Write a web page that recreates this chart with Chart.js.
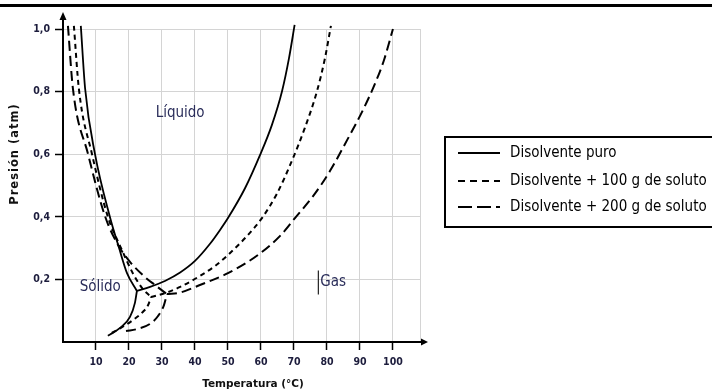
<!DOCTYPE html>
<html><head><meta charset="utf-8">
<script src="https://cdn.jsdelivr.net/npm/chart.js@4"></script>
<style>html,body{margin:0;padding:0;background:#fff}#wrap{width:712px;height:392px;position:relative}</style>
</head><body><div id="wrap"><canvas id="c" width="712" height="392"></canvas></div>
<script>
// ---- data (temperature °C, pressure atm) ----
const xTicks = [0, 10, 20, 30, 40, 50, 60, 70, 80, 90, 100];
const yTicks = [0, 0.2, 0.4, 0.6, 0.8, 1.0];
const seriesNames = ["Disolvente puro", "Disolvente + 100 g de soluto", "Disolvente + 200 g de soluto"];
const regionNames = ["Líquido", "Sólido", "Gas"];
const xTitle = "Temperatura (°C)";
const yTitle = "Presión (atm)";

// pure solvent
const puroFusionT = [5.4, 6.7, 9.7, 14.2, 17.0, 19.4, 22.4];
const puroFusionP = [1.01, 0.81, 0.60, 0.40, 0.30, 0.22, 0.163];
const puroVaporT = [22.4, 26.4, 30.9, 35.5, 40.0, 44.5, 47.6, 50.0, 55.2, 59.7, 63.3, 66.4, 68.5, 70.2];
const puroVaporP = [0.163, 0.176, 0.195, 0.222, 0.259, 0.313, 0.358, 0.396, 0.492, 0.597, 0.693, 0.802, 0.907, 1.013];
const puroSublimT = [13.6, 17.3, 20.3, 21.8, 22.4];
const puroSublimP = [0.02, 0.045, 0.08, 0.125, 0.163];
// + 100 g solute
const s100FusionT = [3.3, 4.8, 8.8, 13.6, 17.6, 21.4, 24.3, 26.7];
const s100FusionP = [1.01, 0.81, 0.60, 0.40, 0.30, 0.215, 0.168, 0.144];
const s100VaporT = [26.7, 31.5, 35.5, 41.5, 46.1, 50.0, 55.8, 60.3, 64.8, 69.1, 73.3, 77.0, 79.4, 81.2];
const s100VaporP = [0.144, 0.158, 0.176, 0.211, 0.243, 0.278, 0.339, 0.396, 0.473, 0.572, 0.684, 0.802, 0.907, 1.01];
const s100SublimT = [14.8, 16.4, 21.2, 24.2, 25.8, 26.7];
const s100SublimP = [0.029, 0.038, 0.07, 0.096, 0.118, 0.144];
// + 200 g solute
const s200FusionT = [1.5, 3.0, 7.6, 12.8, 16.7, 20.3, 24.8, 27.9, 31.5];
const s200FusionP = [1.01, 0.81, 0.60, 0.40, 0.31, 0.256, 0.208, 0.182, 0.153];
const s200VaporT = [31.5, 35.5, 41.5, 50.0, 59.1, 65.8, 70.3, 75.8, 80.9, 86.1, 90.9, 94.5, 97.3, 100.0];
const s200VaporP = [0.153, 0.158, 0.182, 0.22, 0.278, 0.339, 0.396, 0.466, 0.546, 0.645, 0.741, 0.824, 0.901, 1.0];
const s200SublimT = [19.1, 22.7, 26.4, 28.8, 30.6, 31.5];
const s200SublimP = [0.035, 0.042, 0.058, 0.083, 0.118, 0.153];

// ---- styles ----
const lineStyles = [
  { dash: [], width: 1.8 },
  { dash: [5, 4], width: 2 },
  { dash: [10, 5], width: 2 }
];
const legendDash = [[], [7, 5], [14, 5]];
const FONT_C = "'DejaVu Sans Condensed', 'DejaVu Sans', sans-serif";
const FONT = "'DejaVu Sans', sans-serif";

const branches = [
  [0, puroFusionT, puroFusionP], [0, puroVaporT, puroVaporP], [0, puroSublimT, puroSublimP],
  [1, s100FusionT, s100FusionP], [1, s100VaporT, s100VaporP], [1, s100SublimT, s100SublimP],
  [2, s200FusionT, s200FusionP], [2, s200VaporT, s200VaporP], [2, s200SublimT, s200SublimP]
];
const toPts = (T, P) => T.map((t, i) => ({ x: t, y: P[i] }));

const datasets = branches.map(([s, T, P]) => ({
  label: seriesNames[s],
  data: toPts(T, P),
  showLine: true,
  borderColor: '#000',
  backgroundColor: '#000',
  borderWidth: lineStyles[s].width,
  borderDash: lineStyles[s].dash,
  pointRadius: 0,
  cubicInterpolationMode: 'monotone',
  fill: false,
  clip: false
}));

const labelPos = [
  { x: 35.5, y: 0.73, align: 'center' },
  { x: 11.3, y: 0.176, align: 'center' },
  { x: 78.0, y: 0.19, align: 'left' }
];

const deco = {
  id: 'deco',
  beforeDraw(c) {
    const ctx = c.ctx;
    ctx.save(); ctx.fillStyle = '#fff'; ctx.fillRect(0, 0, c.width, c.height); ctx.restore();
  },
  afterDraw(c) {
    const ctx = c.ctx, a = c.chartArea, xs = c.scales.x, ys = c.scales.y;
    ctx.save();
    // top rule
    ctx.fillStyle = '#000';
    ctx.fillRect(0, 4, c.width, 3);
    // axis arrows
    ctx.strokeStyle = '#000'; ctx.lineWidth = 2; ctx.setLineDash([]);
    ctx.beginPath(); ctx.moveTo(a.left, a.top + 1); ctx.lineTo(a.left, 18); ctx.stroke();
    ctx.beginPath(); ctx.moveTo(a.left, 12); ctx.lineTo(a.left - 3.5, 20); ctx.lineTo(a.left + 3.5, 20); ctx.closePath(); ctx.fill();
    ctx.beginPath(); ctx.moveTo(a.right - 1, a.bottom); ctx.lineTo(a.right + 3, a.bottom); ctx.stroke();
    ctx.beginPath(); ctx.moveTo(a.right + 8, a.bottom); ctx.lineTo(a.right + 1, a.bottom - 3.5); ctx.lineTo(a.right + 1, a.bottom + 3.5); ctx.closePath(); ctx.fill();
    // axis titles
    ctx.fillStyle = '#111';
    ctx.font = "bold 10.5px " + FONT;
    ctx.textAlign = 'center'; ctx.textBaseline = 'middle';
    ctx.fillText(xTitle, 253, 384);
    ctx.save();
    ctx.translate(15, 154); ctx.rotate(-Math.PI / 2);
    ctx.font = "bold 11.5px " + FONT;
    try { ctx.letterSpacing = '1px'; } catch (e) {}
    ctx.fillText(yTitle, 0, 0);
    ctx.restore();
    // region labels
    ctx.font = "15px " + FONT_C;
    ctx.fillStyle = '#2a2d5a';
    ctx.textBaseline = 'middle';
    regionNames.forEach((t, i) => {
      const p = labelPos[i];
      ctx.textAlign = p.align;
      ctx.fillText(t, xs.getPixelForValue(p.x), ys.getPixelForValue(p.y));
    });
    // cursor bar before "Gas"
    const gx = xs.getPixelForValue(labelPos[2].x) - 2, gy = ys.getPixelForValue(labelPos[2].y);
    ctx.strokeStyle = '#222'; ctx.lineWidth = 1.2;
    ctx.beginPath(); ctx.moveTo(gx, gy - 12); ctx.lineTo(gx, gy + 12); ctx.stroke();
    // legend
    ctx.strokeStyle = '#000'; ctx.lineWidth = 2;
    ctx.strokeRect(445, 137, 290, 90);
    const rows = [153, 181, 207];
    ctx.font = "15px " + FONT_C;
    ctx.fillStyle = '#000'; ctx.textAlign = 'left'; ctx.textBaseline = 'middle';
    seriesNames.forEach((n, i) => {
      ctx.setLineDash(legendDash[i]);
      ctx.lineWidth = 2;
      ctx.beginPath(); ctx.moveTo(458, rows[i]); ctx.lineTo(500, rows[i]); ctx.stroke();
      ctx.setLineDash([]);
      ctx.fillText(n, 510, rows[i]);
    });
    ctx.restore();
  }
};

new Chart(document.getElementById('c'), {
  type: 'scatter',
  data: { datasets },
  options: {
    responsive: false,
    animation: false,
    layout: { padding: { top: 29, right: 292, left: 0, bottom: 0 } },
    plugins: { legend: { display: false }, tooltip: { enabled: false } },
    scales: {
      x: {
        type: 'linear', min: 0, max: 108.2,
        afterBuildTicks(s) { s.ticks = [...xTicks, 108.2].map(v => ({ value: v })); },
        afterFit(s) { s.height = 50; },
        ticks: {
          autoSkip: false, maxRotation: 0, padding: 6,
          color: '#1c1c3c', font: { family: FONT_C, size: 10.5, weight: 'bold' },
          callback: v => (v > 0 && v <= 100) ? String(v) : ''
        },
        grid: {
          color: '#d4d4d4', lineWidth: 1, tickLength: 8, tickWidth: 1.5,
          tickColor: c => (c.tick && c.tick.value > 0 && c.tick.value <= 100) ? '#000' : 'rgba(0,0,0,0)'
        },
        border: { display: true, color: '#000', width: 2 }
      },
      y: {
        type: 'linear', min: 0, max: 1.0,
        afterBuildTicks(s) { s.ticks = yTicks.map(v => ({ value: v })); },
        afterFit(s) { s.width = 63; },
        ticks: {
          autoSkip: false, padding: 5,
          color: '#1c1c3c', font: { family: FONT_C, size: 10.5, weight: 'bold' },
          callback: v => v > 0 ? v.toFixed(1).replace('.', ',') : ''
        },
        grid: {
          color: '#d4d4d4', lineWidth: 1, tickLength: 8, tickWidth: 1.5,
          tickColor: c => (c.tick && c.tick.value > 0) ? '#000' : 'rgba(0,0,0,0)'
        },
        border: { display: true, color: '#000', width: 2 }
      }
    }
  },
  plugins: [deco]
});
</script></body></html>
